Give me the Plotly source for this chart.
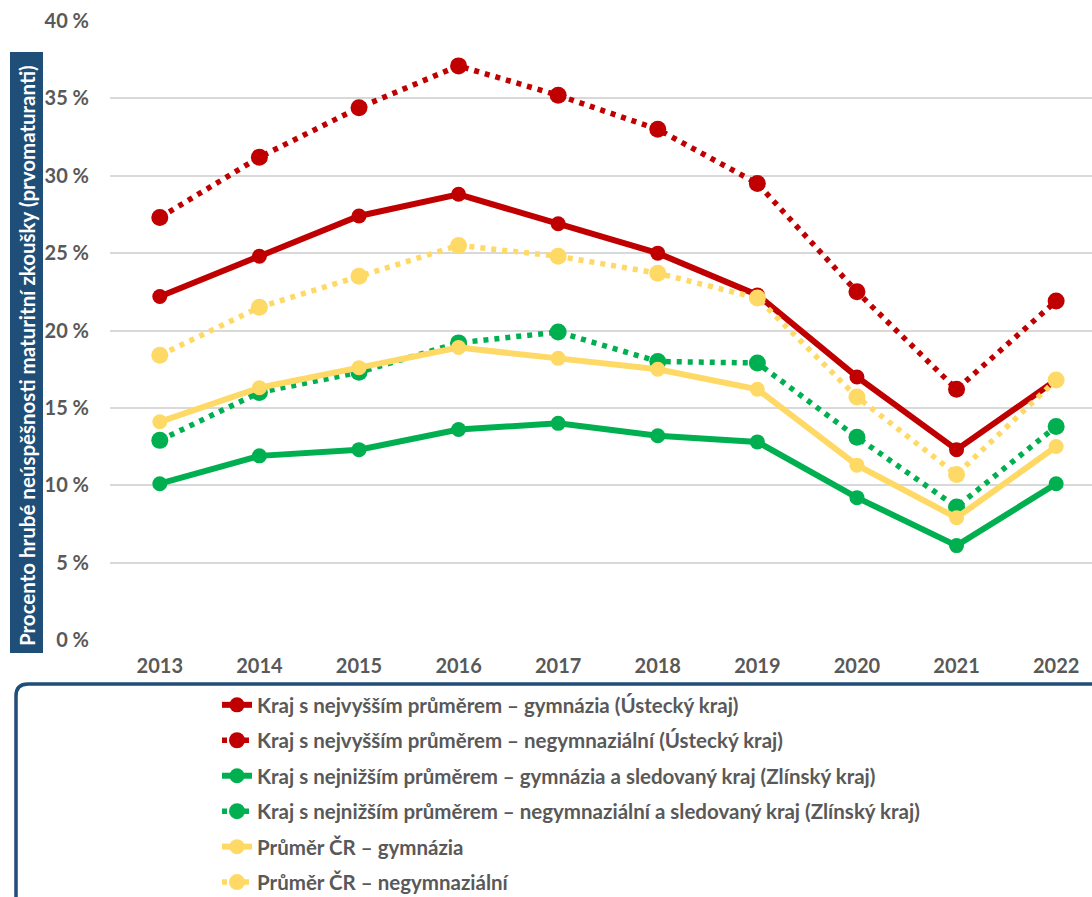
import plotly.graph_objects as go

years = ["2013", "2014", "2015", "2016", "2017", "2018", "2019", "2020", "2021", "2022"]

usti_gym = [22.2, 24.8, 27.4, 28.8, 26.9, 25.0, 22.3, 17.0, 12.3, 16.8]
usti_negym = [27.3, 31.2, 34.4, 37.1, 35.2, 33.0, 29.5, 22.5, 16.2, 21.9]
zlin_gym = [10.1, 11.9, 12.3, 13.6, 14.0, 13.2, 12.8, 9.2, 6.1, 10.1]
zlin_negym = [12.9, 16.0, 17.3, 19.2, 19.9, 18.0, 17.9, 13.1, 8.6, 13.8]
cr_gym = [14.1, 16.3, 17.6, 18.9, 18.2, 17.5, 16.2, 11.3, 7.9, 12.5]
cr_negym = [18.4, 21.5, 23.5, 25.5, 24.8, 23.7, 22.1, 15.7, 10.7, 16.8]

names = [
    "Kraj s nejvyšším průměrem – gymnázia (Ústecký kraj)",
    "Kraj s nejvyšším průměrem – negymnaziální (Ústecký kraj)",
    "Kraj s nejnižším průměrem – gymnázia a sledovaný kraj (Zlínský kraj)",
    "Kraj s nejnižším průměrem – negymnaziální a sledovaný kraj (Zlínský kraj)",
    "Průměr ČR – gymnázia",
    "Průměr ČR – negymnaziální",
]
series = [usti_gym, usti_negym, zlin_gym, zlin_negym, cr_gym, cr_negym]
colors = ["#C00000", "#C00000", "#00B050", "#00B050", "#FFD966", "#FFD966"]
dotted = [False, True, False, True, False, True]

y_title = "Procento hrubé neúspěšnosti maturitní zkoušky (prvomaturanti)"
y_ticks = [0, 5, 10, 15, 20, 25, 30, 35, 40]
y_ticklabels = ["0 %", "5 %", "10 %", "15 %", "20 %", "25 %", "30 %", "35 %", "40 %"]

# figure is slightly taller than the window so the legend frame runs off the bottom edge
W, H = 1092, 915
L, R, T, B = 110, 0, 21, 915 - 640
pw, ph = W - L - R, H - T - B

def px(x):
    return (x - L) / pw

def py(y):
    return (H - B - y) / ph

fig = go.Figure()
for i, (nm, vals, col, dt) in enumerate(zip(names, series, colors, dotted)):
    fig.add_trace(go.Scatter(
        x=years, y=vals, name=nm, mode="lines+markers",
        legendgroup=f"g{i}",
        line=dict(color=col, width=5.5 if dt else 6, dash="5px,6px" if dt else "solid"),
        marker=dict(color=col, size=17 if dt else 15),
    ))

grey = "#595959"
font = dict(family="Lato", size=20, color=grey, weight="bold")

fig.update_layout(
    width=W, height=H,
    margin=dict(l=L, r=R, t=T, b=B, pad=0),
    paper_bgcolor="white", plot_bgcolor="white",
    font=font,
    xaxis=dict(type="category", range=[-0.5, 9.36], showgrid=False, showline=False,
               zeroline=False, ticks="", tickfont=font, ticklabelstandoff=12),
    yaxis=dict(range=[0, 40], tickmode="array", tickvals=y_ticks, ticktext=y_ticklabels,
               showgrid=True, gridcolor="#D9D9D9", gridwidth=2, zeroline=False,
               showline=False, ticks="", tickfont=font, ticklabelstandoff=20),
    showlegend=True,
    legend=dict(x=px(217), y=py(685), xanchor="left", yanchor="top",
                font=dict(family="Lato", size=20.5, color=grey, weight="bold"),
                tracegroupgap=5.8, bgcolor="rgba(0,0,0,0)", borderwidth=0),
)

# y-axis title box
fig.add_shape(type="rect", xref="paper", yref="paper",
              x0=px(10), x1=px(43), y0=py(653), y1=py(52),
              fillcolor="#1F4E79", line=dict(width=0), layer="above")
fig.add_annotation(xref="paper", yref="paper", x=px(27), y=py(356),
                   text=y_title, textangle=-90, showarrow=False,
                   font=dict(family="Lato", size=20.5, color="white", weight="bold"),
                   xanchor="center", yanchor="middle")

# legend frame with rounded top-left corner
x0, r = px(16), 12
xr = px(16 + r)
yr = py(684 + r)
path = (f"M {px(1110)} {py(684)} L {xr} {py(684)} Q {x0} {py(684)} {x0} {yr} "
        f"L {x0} {py(940)}")
fig.add_shape(type="path", xref="paper", yref="paper", path=path,
              line=dict(color="#1F4E79", width=3.5))

fig.write_html("out.html", config={"displayModeBar": False},
               post_script="document.body.style.margin='0px';document.body.style.overflow='hidden';"
                           "document.documentElement.style.overflow='hidden';")
